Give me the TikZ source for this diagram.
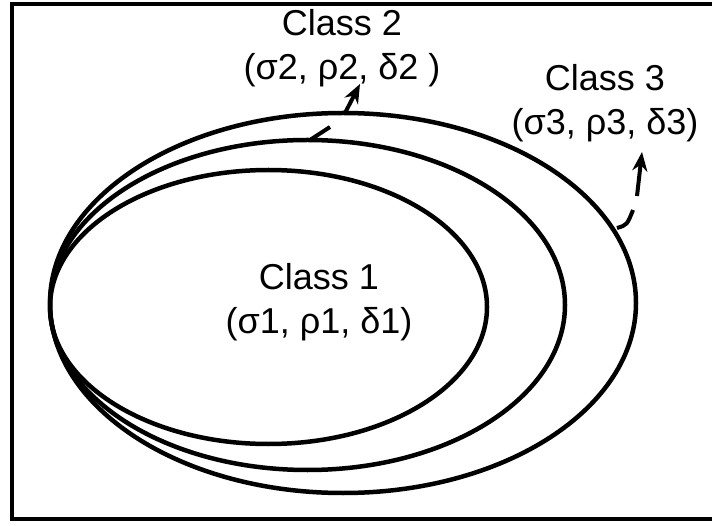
\documentclass[tikz,border=0pt]{standalone}
\usepackage{fontspec}
\setmainfont{Liberation Sans}
\usetikzlibrary{arrows.meta}
\begin{document}
\begin{tikzpicture}[x=1pt,y=-1pt,
  ell/.style={line width=4.5pt},
  conn/.style={line width=4pt},
  tip/.style={-{Stealth[length=19pt,width=15pt,inset=6pt]}},
  lbl/.style={align=center,font=\fontsize{36}{44}\selectfont,inner sep=0pt}]
\useasboundingbox (0,0) rectangle (712,526);
\draw[line width=4pt] (12,4) rectangle (718,519);
\draw[ell] (268.5,307) ellipse [x radius=218.5, y radius=137];
\draw[ell] (307.5,305) ellipse [x radius=257.5, y radius=165];
\draw[ell] (343,303) ellipse [x radius=293, y radius=190];
\node[lbl] (c1) at (319,302) {Class 1\\(σ1, ρ1, δ1)};
\node[lbl] (c2) at (342,48) {Class 2\\(σ2, ρ2, δ2 )};
\node[lbl] (c3) at (605,103) {Class 3\\(σ3, ρ3, δ3)};
\coordinate (a1) at (310,140);
\coordinate (a2) at (330,127);
\coordinate (a3) at (345,113);
\coordinate (a4) at (360,84);
\coordinate (b1) at (617,228);
\coordinate (b2) at (633,210);
\coordinate (b3) at (637,196);
\coordinate (b4) at (642,152);
\draw[conn] (a1) -- (a2);
\draw[conn,tip] (a3) -- (a4);
\draw[conn] (b1) .. controls (627,225) .. (b2);
\draw[conn,tip] (b3) -- (b4);
\end{tikzpicture}
\end{document}
